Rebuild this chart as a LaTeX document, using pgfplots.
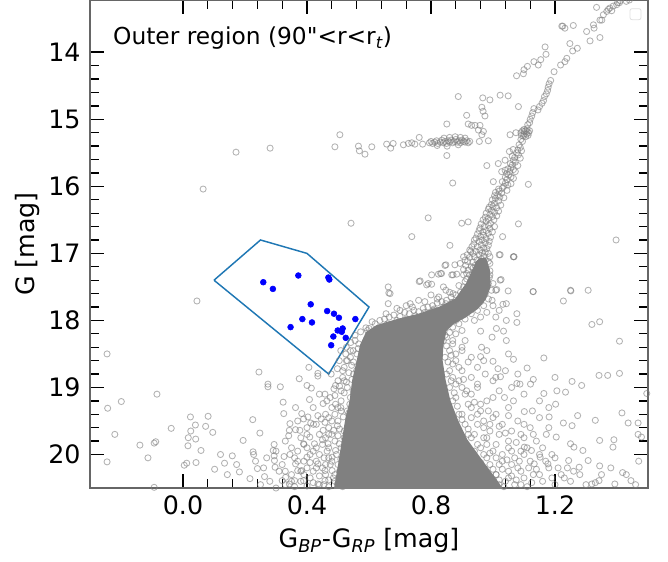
\documentclass[border=0pt]{standalone}
\usepackage{pgfplots}
\pgfplotsset{compat=1.18}
\usepackage{fontspec}
\setmainfont{DejaVu Sans}
\newfontfamily\qfont{DejaVu Sans}[Ligatures=TeXOff]
\definecolor{mplblue}{HTML}{1F77B4}
\definecolor{mplgray}{HTML}{808080}
\begin{document}
\begin{tikzpicture}
\begin{axis}[name=ax, at={(0,0)}, anchor=south west,
 width=418.5pt, height=366pt, scale only axis,
 xmin=-0.3, xmax=1.5, ymin=13.22, ymax=20.5, y dir=reverse,
 xtick={0,0.4,0.8,1.2}, ytick={14,15,...,20},
 minor x tick num=4, minor y tick num=4,
 tick align=inside, tick pos=both,
 major tick length=10.5pt, minor tick length=6.5pt,
 every major tick/.append style={black, line width=1.2pt},
 every minor tick/.append style={black, line width=1pt},
 axis line style={black!60, line width=0.9pt},
 /pgf/number format/assume math mode=true,
 tick label style={font=\fontsize{19}{22}\selectfont},
 xticklabel style={/pgf/number format/.cd, fixed, fixed zerofill, precision=1, /tikz/.cd, yshift=-2.5pt},
 yticklabel style={xshift=-3.5pt},
 xlabel={G\textsubscript{\itshape BP}-G\textsubscript{\itshape RP} [mag]},
 ylabel={G [mag]},
 label style={font=\fontsize{19}{22}\selectfont},
 xlabel style={at={([yshift=-30pt]axis description cs:0.5,0)}, anchor=north, inner sep=0pt},
 ylabel style={at={([xshift=-56pt]axis description cs:0,0.5)}, anchor=north, inner sep=0pt},
 gp/.style={only marks, mark=o, mark size=2.3pt, mark options={draw=mplgray, draw opacity=0.6, line width=0.65pt}},
]
% dense core of the main sequence / subgiant branch / lower giant branch
\addplot[fill=mplgray, draw=mplgray, line width=1pt] coordinates {
(0.958,17.08)(0.976,17.08)(0.988,17.25)(0.990,17.50)(0.975,17.68)(0.950,17.82)(0.910,17.95)(0.870,18.05)(0.848,18.15)(0.838,18.37)(0.835,18.59)(0.845,18.89)(0.860,19.19)(0.885,19.49)(0.915,19.78)(0.962,20.08)(1.010,20.38)(1.035,20.55)
(0.488,20.55)(0.494,20.38)(0.505,20.08)(0.515,19.78)(0.525,19.49)(0.540,19.19)(0.548,18.89)(0.563,18.59)(0.573,18.37)(0.592,18.18)(0.625,18.08)(0.690,17.99)(0.760,17.91)(0.830,17.80)(0.880,17.68)(0.915,17.45)(0.935,17.25)(0.948,17.12)} -- cycle;
% upper giant branches
\addplot[gp] coordinates {
(1.402,13.26)(1.388,13.31)(1.377,13.34)(1.367,13.39)(1.356,13.44)(1.351,13.52)(1.334,13.33)(1.324,13.59)(1.302,13.69)(1.313,13.83)(1.345,13.78)(1.222,13.61)(1.232,13.64)(1.259,13.60)(1.248,13.87)(1.257,13.98)(1.272,13.94)(1.238,14.09)(1.232,14.14)(1.218,14.19)(1.197,14.29)(1.168,13.92)(1.171,14.03)(1.154,14.11)(1.132,14.14)(1.146,14.19)(1.111,14.21)(1.100,14.26)(1.076,14.35)(1.098,14.32)(1.41,13.23)(1.43,13.24)(1.44,13.22)(1.372,13.36)(1.383,13.38)(1.399,13.29)(1.408,13.26)(1.326,13.64)(1.225,13.61)(1.345,13.52)
(1.186,14.42)(1.181,14.47)(1.178,14.52)(1.176,14.57)(1.172,14.62)(1.166,14.66)(1.163,14.72)(1.158,14.76)(1.150,14.81)(1.145,14.86)(1.132,14.84)(1.128,14.90)(1.125,14.95)(1.120,15.00)(1.118,15.05)(1.112,15.08)
(1.095,15.17)(1.100,15.18)(1.105,15.17)(1.110,15.18)(1.115,15.20)(1.090,15.20)(1.100,15.22)(1.108,15.22)(1.113,15.24)(1.098,15.25)(1.105,15.26)(1.092,15.24)(1.118,15.17)(1.100,15.15)(1.110,15.14)
(1.090,15.30)(1.095,15.33)(1.084,15.38)(1.088,15.42)(1.080,15.46)(1.076,15.50)(1.082,15.53)(1.070,15.57)(1.066,15.61)(1.072,15.64)(1.062,15.68)(1.058,15.72)(1.066,15.75)(1.054,15.78)(1.050,15.83)(1.058,15.86)(1.045,15.90)(1.040,15.95)(1.048,15.98)(1.035,16.00)(1.053,15.48)(1.039,15.61)(1.028,15.78)(1.039,15.76)(1.044,15.81)
(1.030,16.03)(1.020,16.07)(1.028,16.10)(1.015,16.13)(1.022,16.16)(1.008,16.18)(1.018,16.22)(1.005,16.25)(1.000,16.30)(1.012,16.32)(0.995,16.36)(1.005,16.39)(0.990,16.42)(0.998,16.45)(0.985,16.48)(1.003,16.50)(0.978,16.52)(0.992,16.55)(0.985,16.58)(0.972,16.60)(0.990,16.63)(0.978,16.66)(0.968,16.68)(0.985,16.70)(0.970,16.73)(0.960,16.75)(0.978,16.78)(0.965,16.80)(0.955,16.82)(0.975,16.84)(0.962,16.87)(0.950,16.90)(0.970,16.92)(0.958,16.95)(0.945,16.97)(0.965,16.99)
(0.955,17.02)(0.940,17.05)(0.962,17.08)(0.948,17.10)(0.935,17.13)(0.958,17.15)(0.942,17.18)(0.930,17.20)(0.952,17.22)(0.975,17.10)(0.920,17.25)(0.965,17.25)(0.910,17.10)(0.925,16.95)(0.985,17.00)(0.990,17.15)(0.915,17.30)(0.980,17.30)(0.945,17.35)(0.970,17.38)
(1.065,15.45)(1.092,15.47)(1.062,15.55)(1.088,15.58)(1.056,15.66)(1.080,15.69)(1.048,15.74)(1.072,15.78)(1.040,15.86)(1.066,15.88)(1.030,15.93)(1.058,15.96)(1.018,16.04)(1.045,16.06)(1.008,16.09)(1.005,16.14)(1.035,16.17)(0.998,16.20)(0.995,16.27)(1.025,16.28)(0.988,16.31)(0.985,16.34)(1.018,16.37)(0.978,16.40)(0.975,16.46)(1.012,16.44)(0.968,16.50)(0.962,16.56)(1.005,16.60)(0.958,16.62)(0.955,16.66)(0.998,16.68)(0.950,16.71)(0.945,16.77)(0.992,16.76)(0.940,16.80)(0.988,16.82)(0.938,16.86)(0.985,16.88)(0.932,16.90)(0.980,16.93)(0.928,16.97)(0.975,16.98)(0.935,17.00)(0.990,17.05)(0.925,17.06)(0.970,17.04)(0.918,17.12)(0.985,17.12)(0.965,17.18)(0.912,17.18)(0.935,17.22)(0.975,17.22)(0.905,17.24)(0.958,17.28)(0.990,17.26)(0.925,17.32)(0.940,17.28)(0.960,17.35)(0.988,17.36)(0.915,17.38)(0.930,17.45)(0.975,17.45)
};
% horizontal branch and surroundings
\addplot[gp] coordinates {
(0.490,15.41)(0.506,15.23)(0.566,15.40)(0.569,15.47)(0.587,15.52)(0.609,15.41)(0.657,15.37)(0.670,15.43)(0.678,15.36)(0.711,15.38)(0.727,15.36)(0.738,15.35)(0.748,15.37)(0.762,15.27)(0.773,15.37)
(0.795,15.35)(0.800,15.33)(0.805,15.36)(0.812,15.34)(0.818,15.32)(0.822,15.36)(0.830,15.34)(0.835,15.31)(0.840,15.35)(0.845,15.33)(0.850,15.36)(0.855,15.32)(0.860,15.34)(0.865,15.31)(0.870,15.35)(0.875,15.33)(0.880,15.30)(0.885,15.34)(0.890,15.32)(0.895,15.35)(0.900,15.31)(0.905,15.33)(0.910,15.34)(0.915,15.32)(0.920,15.35)(0.925,15.33)(0.842,15.28)(0.860,15.27)(0.878,15.26)(0.895,15.27)(0.910,15.28)(0.820,15.39)(0.852,15.40)(0.888,15.38)
(0.851,15.07)(0.851,15.54)(0.915,14.94)(0.920,15.07)(0.931,15.09)(0.942,15.09)(0.958,15.09)(0.953,15.16)(0.969,15.18)(0.964,15.23)(0.956,15.33)(0.985,15.32)(0.964,14.82)(0.968,14.88)(0.974,14.95)(0.888,14.66)(0.967,14.68)(0.990,14.71)(1.023,14.64)(1.049,14.65)(1.082,14.81)(1.055,15.23)(1.074,15.20)
(0.171,15.49)(0.281,15.43)(0.065,16.04)(0.542,16.55)
(0.870,15.95)(0.980,15.69)(1.017,15.66)(1.114,15.97)(1.001,15.93)(0.738,16.75)(0.791,16.47)(0.861,16.88)(0.899,16.55)(0.920,16.53)(1.082,16.56)(1.023,17.02)(1.068,17.05)(1.031,16.75)(1.023,17.40)(1.049,17.56)(1.012,17.54)(1.130,17.57)(1.251,17.56)(1.307,17.55)(1.397,16.80)(0.845,17.18)(0.765,17.41)(0.786,17.47)(0.802,17.46)(0.824,17.31)(0.834,17.30)(0.867,17.32)(0.883,17.31)(0.662,17.50)(0.668,17.60)(0.664,17.59)(0.662,17.75)
(0.762,17.42)(0.791,17.45)(0.802,17.32)(0.831,17.30)(0.848,17.17)(0.877,17.17)(0.894,17.15)(0.871,17.32)(0.905,17.32)(0.905,17.05)(0.917,17.02)(0.808,17.85)(0.819,17.87)(0.791,17.90)(0.848,17.75)(0.871,17.60)(0.825,17.65)(0.848,17.55)(0.733,17.75)
(0.997,17.70)(1.020,17.85)(1.043,17.75)(1.009,17.95)(1.043,18.00)(1.077,17.90)(0.997,18.25)(0.963,18.40)(1.026,17.39)(1.066,17.05)(1.020,17.02)(1.227,17.71)(1.032,17.76)
};
% subgiant branch and edges of the dense core
\addplot[gp] coordinates {
(0.640,18.10)(0.660,18.05)(0.690,18.00)(0.720,17.98)(0.750,17.93)(0.780,17.88)(0.810,17.83)(0.840,17.80)(0.870,17.73)(0.900,17.66)(0.920,17.55)(0.930,17.42)(0.950,17.32)
(0.860,18.05)(0.880,18.00)(0.900,17.92)(0.930,17.82)(0.960,17.72)(0.975,17.60)(0.985,17.45)(0.990,17.32)
(0.620,18.05)(0.635,18.00)(0.650,17.98)(0.665,17.95)(0.680,17.92)(0.700,17.94)(0.715,17.88)(0.730,17.90)(0.745,17.85)(0.760,17.87)(0.775,17.82)(0.790,17.80)(0.805,17.78)(0.820,17.74)(0.835,17.72)(0.850,17.70)(0.865,17.65)(0.880,17.62)(0.895,17.58)(0.905,17.50)(0.910,17.42)(0.700,17.85)(0.740,17.80)(0.780,17.72)(0.820,17.68)(0.860,17.58)(0.890,17.48)(0.655,17.90)(0.690,17.82)(0.720,17.78)(0.760,17.70)(0.800,17.62)(0.840,17.50)(0.610,18.02)(0.600,18.12)(0.625,18.15)
(0.870,18.10)(0.890,18.05)(0.910,17.98)(0.930,17.90)(0.950,17.85)(0.970,17.78)(0.985,17.68)(0.995,17.55)(1.000,17.45)(0.900,18.15)(0.940,18.00)(0.960,17.95)(0.980,17.88)(1.000,17.78)(0.880,18.20)(0.860,18.18)
(0.590,18.30)(0.580,18.50)(0.575,18.70)(0.570,18.90)(0.565,19.10)(0.560,19.30)(0.555,19.50)(0.550,19.70)(0.545,19.90)(0.540,20.10)(0.535,20.30)(0.530,20.45)
(0.840,18.30)(0.845,18.55)(0.850,18.80)(0.860,19.00)(0.870,19.20)(0.890,19.40)(0.910,19.55)(0.930,19.75)(0.950,19.85)(0.970,20.00)(0.990,20.15)(1.010,20.30)(1.020,20.45)
(0.590,18.11)(0.595,18.15)(0.567,18.35)(0.584,18.40)(0.549,18.45)(0.561,18.50)(0.527,18.60)(0.544,18.67)(0.515,18.85)(0.527,18.92)(0.504,18.60)(0.509,18.45)(0.527,18.40)(0.541,18.33)(0.555,18.22)(0.573,18.17)(0.549,19.05)(0.538,19.25)(0.517,19.44)(0.498,19.57)(0.520,19.75)(0.492,19.94)(0.509,20.07)(0.481,20.24)(0.498,20.44)(0.458,20.39)(0.435,20.14)(0.400,20.04)(0.383,20.24)(0.360,20.39)(0.343,20.44)(0.320,20.39)(0.424,19.84)(0.389,19.84)(0.468,19.84)(0.486,19.64)(0.452,19.64)(0.509,19.30)(0.492,19.25)
(0.555,18.30)(0.565,18.42)(0.550,18.62)(0.560,18.75)(0.545,18.88)(0.555,18.98)(0.540,19.15)(0.552,19.25)(0.535,19.38)(0.548,19.58)(0.530,19.68)(0.542,19.80)(0.525,19.95)(0.535,20.05)(0.520,20.15)(0.530,20.38)(0.515,20.48)
(0.525,18.50)(0.535,18.78)(0.520,19.08)(0.510,19.35)(0.505,19.62)(0.500,19.72)(0.495,20.00)(0.505,20.25)(0.485,20.35)(0.470,20.48)(0.475,20.15)(0.465,19.95)(0.480,19.70)(0.470,19.45)(0.490,19.12)(0.505,18.98)(0.515,18.75)
(0.845,18.22)(0.850,18.38)(0.855,18.62)(0.865,18.90)(0.875,19.08)(0.885,19.28)(0.900,19.48)(0.920,19.62)(0.940,19.70)(0.960,19.90)(0.980,20.05)(1.000,20.22)(1.020,20.38)(1.035,20.48)
(0.865,18.52)(0.890,18.70)(0.905,18.88)(0.915,19.05)(0.940,19.22)(0.950,19.40)(0.970,19.50)(0.990,19.65)(1.010,19.85)(1.030,20.10)(1.050,20.35)(1.060,20.15)(0.985,19.35)(1.000,19.15)(0.975,18.80)
};
% left halo and blue-straggler region
\addplot[gp] coordinates {
(-0.245,18.50)(-0.243,19.31)(-0.199,19.21)(-0.220,19.70)(-0.245,20.11)(-0.084,19.10)(-0.038,19.61)(-0.139,19.86)(-0.093,19.83)(-0.088,19.81)(-0.113,20.05)(-0.093,20.49)(0.045,17.71)
(0.024,19.44)(0.081,19.43)(0.040,19.56)(0.073,19.58)(0.025,19.65)(0.096,19.67)(0.017,19.75)(0.041,19.77)(0.016,19.87)(0.058,19.94)(0.012,20.13)(0.004,20.16)(0.042,20.12)(0.102,20.22)(0.121,20.00)(0.134,20.13)(0.159,20.02)(0.173,20.15)(0.182,20.26)(0.143,20.30)(0.194,19.79)(0.225,19.48)(0.248,19.68)(0.226,19.96)(0.228,20.00)(0.234,20.10)(0.240,20.21)(0.216,20.36)(0.263,20.33)
(0.294,19.85)(0.291,19.94)(0.294,20.02)(0.295,20.09)(0.326,20.03)(0.363,20.14)(0.370,20.24)(0.325,19.39)(0.323,19.22)(0.314,18.99)(0.363,19.30)(0.274,18.95)(0.274,18.99)(0.245,18.77)(0.345,19.54)(0.343,19.64)(0.341,19.72)(0.375,18.87)(0.400,18.97)(0.414,19.01)(0.406,18.70)(0.435,18.79)(0.435,18.83)(0.408,19.18)(0.383,19.39)(0.389,19.47)(0.403,19.44)(0.412,19.53)(0.421,19.55)(0.363,19.63)(0.377,19.64)(0.400,19.70)(0.409,19.74)(0.435,19.42)(0.446,19.47)(0.458,19.52)(0.452,19.24)(0.464,19.20)(0.458,19.10)(0.475,19.15)(0.487,19.02)(0.492,18.97)(0.478,18.80)(0.498,18.72)
(0.540,18.55)(0.520,18.70)(0.550,18.80)(0.500,18.90)(0.530,19.00)(0.550,19.10)(0.510,19.20)(0.480,19.30)(0.530,19.35)(0.550,19.45)(0.500,19.50)(0.470,19.60)(0.520,19.65)(0.540,19.75)(0.490,19.80)(0.450,19.85)(0.510,19.90)(0.530,20.00)(0.470,20.05)(0.430,20.10)(0.500,20.15)(0.520,20.25)(0.460,20.30)(0.410,20.35)(0.490,20.40)(0.440,20.45)(0.380,20.40)(0.350,20.30)(0.400,20.20)(0.450,20.20)(0.420,19.95)(0.440,19.70)(0.460,19.40)(0.390,19.85)(0.360,20.05)(0.330,20.45)(0.310,20.25)(0.280,20.40)(0.260,20.20)(0.300,19.95)(0.297,20.19)(0.331,20.34)(0.389,20.39)(0.435,20.44)(0.458,20.24)(0.481,20.04)(0.504,19.84)
(0.320,20.15)(0.345,20.00)(0.370,19.95)(0.390,20.10)(0.410,20.00)(0.430,19.90)(0.455,20.05)(0.380,20.25)(0.420,20.25)(0.440,20.32)(0.360,20.48)(0.400,20.47)(0.300,20.50)(0.250,20.45)(0.270,20.05)(0.330,19.80)(0.350,19.90)(0.400,19.60)(0.430,19.55)(0.460,19.75)(0.370,19.50)(0.420,19.30)(0.440,19.10)
(0.470,19.90)(0.480,20.10)(0.460,20.15)(0.490,20.30)(0.470,20.38)(0.455,20.45)(0.420,20.42)(0.430,20.20)(0.410,20.12)(0.440,20.00)(0.450,19.78)(0.470,19.70)(0.480,19.50)(0.490,19.40)(0.500,19.30)(0.510,19.05)(0.520,18.90)(0.530,18.60)(0.540,18.45)(0.390,20.30)(0.370,20.10)(0.350,20.40)(0.330,20.25)(0.400,19.90)(0.380,19.75)
};
% right halo and field stars
\addplot[gp] coordinates {
(1.066,17.05)(1.009,17.55)(1.129,17.57)(1.250,17.55)(1.077,18.03)(1.319,18.06)(1.344,18.02)(0.960,18.16)(1.011,18.12)(1.034,18.16)(1.043,18.30)(1.408,18.31)(0.960,18.54)(1.000,18.61)(1.016,18.72)(1.066,18.58)(1.110,18.71)(1.164,18.56)(1.009,18.85)(1.024,18.84)(1.077,18.94)(1.342,18.82)(1.370,18.82)(1.408,18.79)(1.255,18.91)(1.286,18.97)(1.206,19.05)(1.234,19.07)(1.164,19.09)(1.121,18.95)(1.087,18.95)(1.037,19.15)(1.066,19.20)(1.496,19.09)(1.127,19.35)(1.101,19.36)(1.202,19.25)(1.416,19.38)(1.181,19.44)(1.227,19.53)(1.255,19.57)(1.273,19.42)(1.330,19.49)(1.436,19.53)(1.468,19.53)(1.172,19.70)(1.204,19.74)(1.250,19.84)(1.261,19.89)(1.290,19.94)(1.344,19.79)(1.390,19.78)(1.387,19.89)(1.468,19.70)(1.479,19.74)(1.244,20.09)(1.278,20.19)(1.307,20.09)(1.344,20.17)(1.418,20.27)(1.319,20.44)(1.342,20.39)(1.393,20.44)(1.445,20.39)(1.133,20.14)(1.152,20.04)(1.177,20.14)(1.101,19.89)(1.124,19.94)
(0.870,18.35)(0.900,18.45)(0.880,18.60)(0.930,18.55)(0.950,18.70)(0.860,18.75)(0.980,18.45)(1.050,18.50)(0.910,18.30)(0.890,18.90)(0.850,18.25)(0.870,18.30)(0.860,18.45)(0.900,18.40)(0.880,18.50)(0.920,18.62)(0.870,18.65)(0.900,18.75)(0.930,18.85)(0.880,18.95)(0.950,19.00)(0.910,19.10)(0.970,18.60)
(0.870,18.85)(0.900,19.00)(0.930,19.10)(0.950,18.95)(0.980,19.20)(1.020,19.05)(0.880,19.15)(0.920,19.25)(1.050,19.30)(0.960,19.35)(1.100,19.10)(1.000,18.90)
(0.900,19.40)(0.930,19.45)(0.950,19.55)(0.970,19.60)(1.000,19.45)(1.030,19.55)(1.060,19.65)(1.080,19.50)(1.120,19.60)(1.150,19.45)(0.920,19.70)(0.980,19.75)(1.020,19.70)(1.100,19.75)(1.050,19.80)(1.140,19.80)(1.180,19.60)
(0.980,19.85)(1.000,19.95)(1.030,20.00)(1.050,19.90)(1.070,20.05)(1.090,19.95)(1.120,20.10)(1.150,20.00)(1.180,20.20)(1.200,20.05)(1.020,20.15)(1.050,20.25)(1.080,20.20)(1.100,20.35)(1.130,20.30)(1.160,20.40)(1.040,20.40)(1.070,20.45)(1.220,20.30)(1.250,20.40)(1.200,20.45)(1.010,20.30)(1.110,20.48)(1.190,20.35)(1.240,20.20)(1.280,20.30)(1.300,20.45)(1.350,20.30)(1.260,20.25)(1.330,20.42)(1.380,20.20)(1.430,20.30)(1.470,20.10)(1.460,20.45)
(1.040,18.75)(1.080,18.80)(1.130,18.88)(1.060,19.00)(1.150,19.20)(1.200,18.85)(1.180,19.30)(1.050,19.42)(1.100,19.55)
(0.940,19.95)(0.960,20.12)(0.980,20.28)(1.000,20.45)(0.990,19.98)(1.010,20.05)(1.030,20.22)(1.045,20.08)(1.060,20.32)(1.075,20.38)(1.090,20.25)(1.085,20.10)(1.100,20.00)(1.115,20.20)(1.125,20.42)(1.140,20.22)(1.060,19.95)(1.075,19.82)(1.040,19.68)(1.020,19.58)(0.990,19.55)(0.970,19.75)(1.010,19.40)(0.960,19.25)(0.930,19.30)(1.090,19.70)(1.110,19.90)(1.130,19.70)(1.160,19.90)(1.170,20.10)(1.190,20.00)(1.210,20.20)(1.230,20.35)(1.150,20.30)(1.090,20.45)
};
% selection box
\addplot[mplblue, line width=1.1pt] coordinates {(0.10,17.40)(0.25,16.80)(0.40,17.00)(0.60,17.80)(0.47,18.80)(0.10,17.40)};
% selected stars
\addplot[only marks, mark=*, mark size=2.2pt, mark options={fill=blue, draw=blue}] coordinates {
(0.259,17.43)(0.290,17.53)(0.372,17.33)(0.469,17.36)(0.472,17.39)(0.412,17.76)(0.465,17.86)(0.487,17.90)(0.503,17.96)(0.556,17.98)(0.385,17.98)(0.416,18.03)(0.347,18.10)(0.499,18.15)(0.515,18.12)(0.512,18.17)(0.525,18.26)(0.485,18.24)(0.478,18.37)};
\node[anchor=west, inner sep=0pt, font=\fontsize{17.5}{20}\selectfont] at (axis description cs:0.041,0.922) {Outer region (90{\qfont\char34}<r<r\textsubscript{\itshape t})};
\node[draw=black!12, fill=white, rounded corners=1.5pt, line width=0.6pt, minimum size=8.25pt, inner sep=0pt] at (axis description cs:0.9776,0.971) {};
\end{axis}
\pgfresetboundingbox
\path ([shift={(-67.5pt,-54.75pt)}]ax.south west) rectangle ([shift={(15pt,0pt)}]ax.north east);
\end{tikzpicture}
\end{document}
